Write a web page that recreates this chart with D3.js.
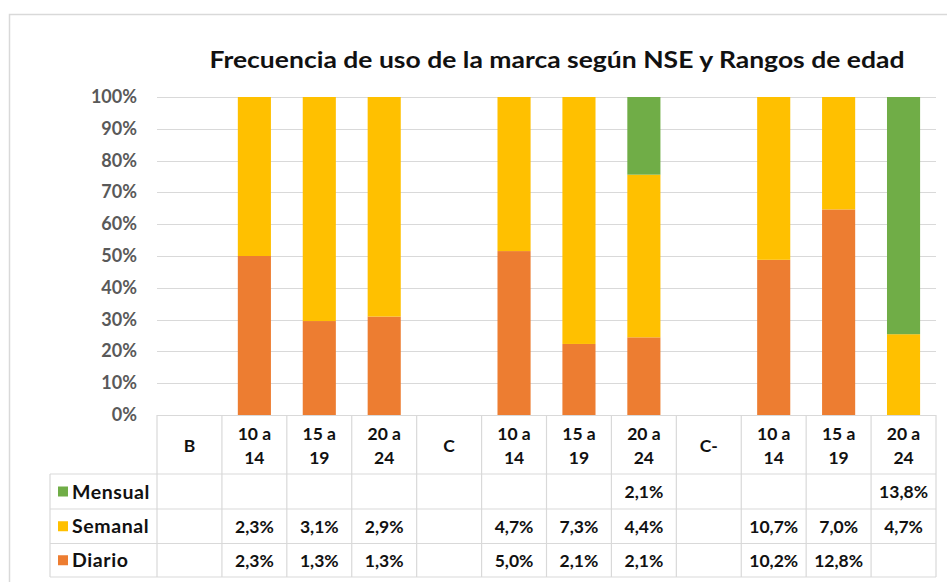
<!DOCTYPE html>
<html><head><meta charset="utf-8">
<script src="https://cdn.jsdelivr.net/npm/d3@7"></script>
<style>body{margin:0;background:#fff}svg{display:block}text{font-family:Lato,"Open Sans",sans-serif}</style>
</head><body><svg id="c" width="947" height="582"></svg>
<script>
const categories = ["B","10 a 14","15 a 19","20 a 24","C","10 a 14","15 a 19","20 a 24","C-","10 a 14","15 a 19","20 a 24"];
const mensual = [null,null,null,null,null,null,null,2.1,null,null,null,13.8];
const semanal = [null,2.3,3.1,2.9,null,4.7,7.3,4.4,null,10.7,7.0,4.7];
const diario  = [null,2.3,1.3,1.3,null,5.0,2.1,2.1,null,10.2,12.8,null];
const seriesNames = ["Diario","Semanal","Mensual"];
const seriesColors = ["#ED7D31","#FFC000","#70AD47"];
const yTicks = [0,0.1,0.2,0.3,0.4,0.5,0.6,0.7,0.8,0.9,1];
const title = "Frecuencia de uso de la marca según NSE y Rangos de edad";

(function(){
const svg = d3.select("#c");
const pL = 157, pR = 936, pT = 97, pB = 415;
const rowH = [474, 509, 543.5, 577];
const gridC = "#D9D9D9";

// outer chart border
svg.append("rect").attr("x",9.5).attr("y",14.5).attr("width",960).attr("height",600)
  .attr("fill","none").attr("stroke","#D9D9D9").attr("stroke-width",1.5);

const x = d3.scaleBand().domain(d3.range(categories.length)).range([pL,pR]).padding(0);
const y = d3.scaleLinear().domain([0,1]).range([pB,pT]);

const table = categories.map((c,i)=>({i, Diario: diario[i]||0, Semanal: semanal[i]||0, Mensual: mensual[i]||0}));
const stack = d3.stack().keys(seriesNames).offset(d3.stackOffsetExpand)(table);

// gridlines
svg.append("g").selectAll("line").data(yTicks.slice(1)).join("line")
  .attr("x1",pL).attr("x2",pR).attr("y1",d=>Math.round(y(d))+0.5).attr("y2",d=>Math.round(y(d))+0.5)
  .attr("stroke",gridC).attr("stroke-width",1);

// y axis labels
const pct = d3.format(".0%");
svg.append("g").selectAll("text").data(yTicks).join("text")
  .attr("x",137).attr("y",d=>y(d)+6).attr("text-anchor","end")
  .attr("font-size",18).attr("font-weight","bold").attr("fill","#595959").text(d=>pct(d));

// bars
const bw = x.bandwidth()*0.51;
svg.append("g").selectAll("g").data(stack).join("g")
  .attr("fill",(d,i)=>seriesColors[i])
  .selectAll("rect").data(d=>d.filter(p=>p[1]-p[0]>0)).join("rect")
  .attr("x",d=>x(d.data.i)+(x.bandwidth()-bw)/2).attr("width",bw)
  .attr("y",d=>y(d[1])).attr("height",d=>y(d[0])-y(d[1]));

// title
svg.append("text").attr("x",557).attr("y",68).attr("text-anchor","middle")
  .attr("font-size",22).attr("font-weight","bold").attr("fill","#111")
  .attr("textLength",695).attr("lengthAdjust","spacingAndGlyphs").text(title);

// table lines
const tg = svg.append("g").attr("stroke",gridC).attr("stroke-width",1.2).attr("fill","none");
tg.append("line").attr("x1",pL).attr("x2",pR).attr("y1",pB+0.5).attr("y2",pB+0.5);
rowH.forEach(r=>tg.append("line").attr("x1",50).attr("x2",pR).attr("y1",r).attr("y2",r));
d3.range(categories.length+1).forEach(k=>{
  const xx = k<categories.length ? x(k) : pR;
  tg.append("line").attr("x1",xx).attr("x2",xx).attr("y1",pB).attr("y2",rowH[3]);
});
tg.append("line").attr("x1",50).attr("x2",50).attr("y1",rowH[0]).attr("y2",rowH[3]);

// header labels
const hg = svg.append("g").attr("font-size",17.5).attr("font-weight","bold").attr("fill","#111").attr("text-anchor","middle");
categories.forEach((c,i)=>{
  const cx = x(i)+x.bandwidth()/2;
  const parts = c.split(" ");
  if (parts.length===1) {
    hg.append("text").attr("x",cx).attr("y",452).text(c);
  } else {
    hg.append("text").attr("x",cx).attr("y",440).text(parts[0]+" "+parts[1]);
    hg.append("text").attr("x",cx).attr("y",464).text(parts.slice(2).join(" "));
  }
});

// legend + values
const loc = d3.formatLocale({decimal:",",thousands:".",grouping:[3],currency:["","€"]});
const f1 = loc.format(".1f");
const rows = [["Mensual",mensual,"#70AD47"],["Semanal",semanal,"#FFC000"],["Diario",diario,"#ED7D31"]];
rows.forEach((r,ri)=>{
  const cy = (rowH[ri]+rowH[ri+1])/2;
  svg.append("rect").attr("x",58).attr("y",cy-5).attr("width",10).attr("height",10).attr("fill",r[2]);
  svg.append("text").attr("x",72).attr("y",cy+7).attr("font-size",19.5).attr("letter-spacing",0.6)
    .attr("font-weight","bold").attr("fill","#111").text(r[0]);
  r[1].forEach((v,i)=>{
    if (v==null) return;
    svg.append("text").attr("x",x(i)+x.bandwidth()/2).attr("y",cy+6.5).attr("text-anchor","middle")
      .attr("font-size",17.5).attr("font-weight","bold").attr("fill","#111").text(f1(v)+"%");
  });
});
})();
</script></body></html>
